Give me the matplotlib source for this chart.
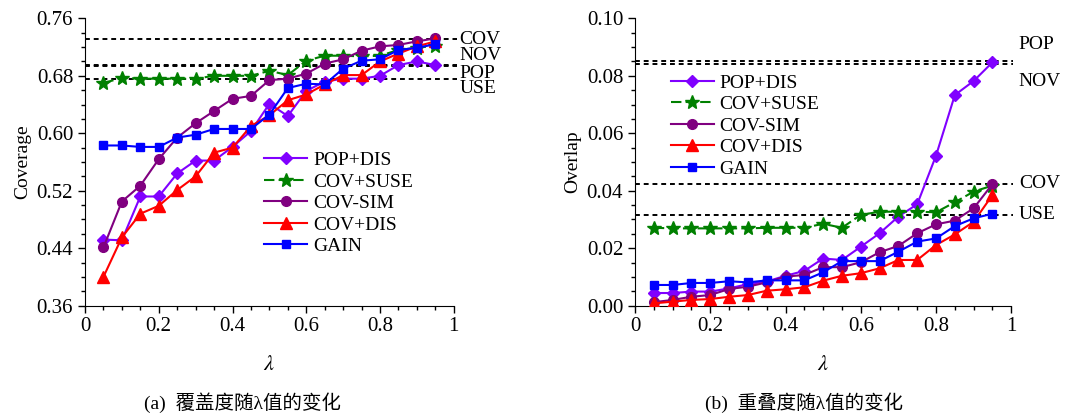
import matplotlib
matplotlib.use("Agg")
import matplotlib.pyplot as plt
from matplotlib.ticker import MultipleLocator, FixedLocator, FuncFormatter
import numpy as np

plt.rcParams['font.family'] = ['Liberation Serif', 'Noto Sans CJK SC']
plt.rcParams['mathtext.fontset'] = 'stix'

lam = [0.05, 0.10, 0.15, 0.20, 0.25, 0.30, 0.35, 0.40, 0.45, 0.50,
       0.55, 0.60, 0.65, 0.70, 0.75, 0.80, 0.85, 0.90, 0.95]

# (a) Coverage
cov_pop_dis = [0.452, 0.451, 0.512, 0.512, 0.544, 0.562, 0.562, 0.581, 0.603, 0.641,
               0.624, 0.659, 0.672, 0.676, 0.676, 0.680, 0.695, 0.700, 0.695]
cov_cov_suse = [0.670, 0.677, 0.676, 0.676, 0.676, 0.676, 0.680, 0.680, 0.680, 0.687,
                0.681, 0.701, 0.708, 0.708, 0.707, 0.708, 0.716, 0.719, 0.722]
cov_cov_sim = [0.441, 0.505, 0.527, 0.564, 0.594, 0.614, 0.631, 0.648, 0.652, 0.674,
               0.676, 0.683, 0.697, 0.703, 0.715, 0.721, 0.723, 0.728, 0.732]
cov_cov_dis = [0.400, 0.455, 0.488, 0.499, 0.521, 0.540, 0.573, 0.580, 0.610, 0.625,
               0.646, 0.654, 0.668, 0.681, 0.681, 0.700, 0.711, 0.721, 0.728]
cov_gain = [0.583, 0.583, 0.581, 0.581, 0.594, 0.598, 0.606, 0.606, 0.606, 0.626,
            0.663, 0.669, 0.668, 0.690, 0.701, 0.703, 0.716, 0.719, 0.724]
cov_ref_names = ['COV', 'NOV', 'POP', 'USE']
cov_ref_values = [0.731, 0.695, 0.694, 0.675]
cov_yticks = [0.36, 0.44, 0.52, 0.60, 0.68, 0.76]

# (b) Overlap
ovl_pop_dis = [0.0044, 0.0044, 0.0049, 0.0049, 0.0060, 0.0075, 0.0084, 0.0104, 0.0121, 0.0164,
               0.0159, 0.0205, 0.0252, 0.0310, 0.0353, 0.0522, 0.0733, 0.0782, 0.0847]
ovl_cov_suse = [0.0271, 0.0269, 0.0269, 0.0269, 0.0269, 0.0269, 0.0271, 0.0271, 0.0271, 0.0285,
                0.0271, 0.0316, 0.0327, 0.0327, 0.0327, 0.0325, 0.0360, 0.0397, 0.0418]
ovl_cov_sim = [0.0012, 0.0020, 0.0031, 0.0037, 0.0058, 0.0066, 0.0081, 0.0101, 0.0107, 0.0134,
               0.0134, 0.0151, 0.0186, 0.0208, 0.0252, 0.0283, 0.0296, 0.0339, 0.0423]
ovl_cov_dis = [0.0008, 0.0014, 0.0020, 0.0023, 0.0031, 0.0037, 0.0052, 0.0057, 0.0064, 0.0087,
               0.0104, 0.0113, 0.0130, 0.0159, 0.0159, 0.0211, 0.0248, 0.0292, 0.0385]
ovl_gain = [0.0072, 0.0072, 0.0079, 0.0079, 0.0085, 0.0081, 0.0088, 0.0088, 0.0088, 0.0116,
            0.0155, 0.0155, 0.0155, 0.0188, 0.0223, 0.0234, 0.0277, 0.0304, 0.0320]
ovl_ref_names = ['POP', 'NOV', 'COV', 'USE']
ovl_ref_values = [0.0851, 0.0841, 0.0425, 0.0317]

series_names = ['POP+DIS', 'COV+SUSE', 'COV-SIM', 'COV+DIS', 'GAIN']
styles = [
    dict(color='#8000FF', marker='D', ms=6.5, ls='-'),
    dict(color='#008000', marker='*', ms=10, ls=(0, (5, 2))),
    dict(color='#800080', marker='o', ms=7, ls='-'),
    dict(color='#FF0000', marker='^', ms=8, ls='-'),
    dict(color='#0000FF', marker='s', ms=6, ls='-'),
]

FS = 14

fig = plt.figure(figsize=(10.69, 4.17), dpi=100)
ax1 = fig.add_axes([0.0795, 0.267, 0.345, 0.689])
ax2 = fig.add_axes([0.594, 0.267, 0.352, 0.689])


def style_axes(ax):
    for s in ['top', 'right']:
        ax.spines[s].set_visible(False)
    ax.tick_params(direction='out', length=5, width=1, labelsize=15)
    ax.tick_params(which='minor', direction='out', length=3, width=1)
    ax.xaxis.set_major_locator(MultipleLocator(0.2))
    ax.xaxis.set_minor_locator(MultipleLocator(0.05))
    ax.xaxis.set_major_formatter(FuncFormatter(lambda v, p: '%g' % round(v, 2)))
    ax.set_xlim(0, 1)
    ax.set_xlabel(r'$\lambda$', fontsize=16, labelpad=14)


def add_labels(ax, names, values, offsets, x=1.015):
    # offsets: vertical alignment of each label relative to its line
    tr = ax.get_yaxis_transform()
    for name, v, (dy, va) in zip(names, values, offsets):
        ax.text(x, v + dy, name, transform=tr, fontsize=FS, va=va)


# left panel
data_a = [cov_pop_dis, cov_cov_suse, cov_cov_sim, cov_cov_dis, cov_gain]
for name, vals, st in zip(series_names, data_a, styles):
    ax1.plot(lam, vals, label=name, lw=1.5, zorder=3, **st)
for v in cov_ref_values:
    ax1.plot([0, 1.01], [v, v], ls=(0, (2.5, 2)), color='black', lw=1.4, clip_on=False, zorder=2)
add_labels(ax1, cov_ref_names, cov_ref_values,
           [(0, 'center'), (0.001, 'bottom'), (0.001, 'top'), (-0.001, 'top')])
ax1.set_ylim(0.36, 0.76)
ax1.yaxis.set_major_locator(FixedLocator(cov_yticks))
ax1.yaxis.set_minor_locator(MultipleLocator(0.02))
ax1.yaxis.set_major_formatter(FuncFormatter(lambda v, p: '%.2f' % v))
ax1.set_ylabel('Coverage', fontsize=FS, labelpad=4)
style_axes(ax1)
ax1.legend(loc='upper left', bbox_to_anchor=(0.46, 0.57), frameon=False, fontsize=FS,
           handlelength=2.2, handletextpad=0.3, labelspacing=0.2, borderpad=0)

# right panel
data_b = [ovl_pop_dis, ovl_cov_suse, ovl_cov_sim, ovl_cov_dis, ovl_gain]
for name, vals, st in zip(series_names, data_b, styles):
    ax2.plot(lam, vals, label=name, lw=1.5, zorder=3, **st)
for v in ovl_ref_values:
    ax2.plot([0, 1.005], [v, v], ls=(0, (2.5, 2)), color='black', lw=1.4, clip_on=False, zorder=2)
add_labels(ax2, ovl_ref_names, ovl_ref_values,
           [(0.003, 'bottom'), (-0.003, 'top'), (0, 'center'), (0, 'center')], x=1.02)
ax2.set_ylim(0, 0.10)
ax2.yaxis.set_major_locator(MultipleLocator(0.02))
ax2.yaxis.set_minor_locator(MultipleLocator(0.005))
ax2.yaxis.set_major_formatter(FuncFormatter(lambda v, p: '%.2f' % v))
ax2.set_ylabel('Overlap', fontsize=FS, labelpad=4)
style_axes(ax2)
ax2.legend(loc='upper left', bbox_to_anchor=(0.07, 0.84), frameon=False, fontsize=FS,
           handlelength=2.2, handletextpad=0.3, labelspacing=0.2, borderpad=0)

fig.text(0.227, 0.02, '(a)  覆盖度随λ值的变化', fontsize=14, ha='center')
fig.text(0.752, 0.02, '(b)  重叠度随λ值的变化', fontsize=14, ha='center')

fig.savefig('out.png', dpi=100)
